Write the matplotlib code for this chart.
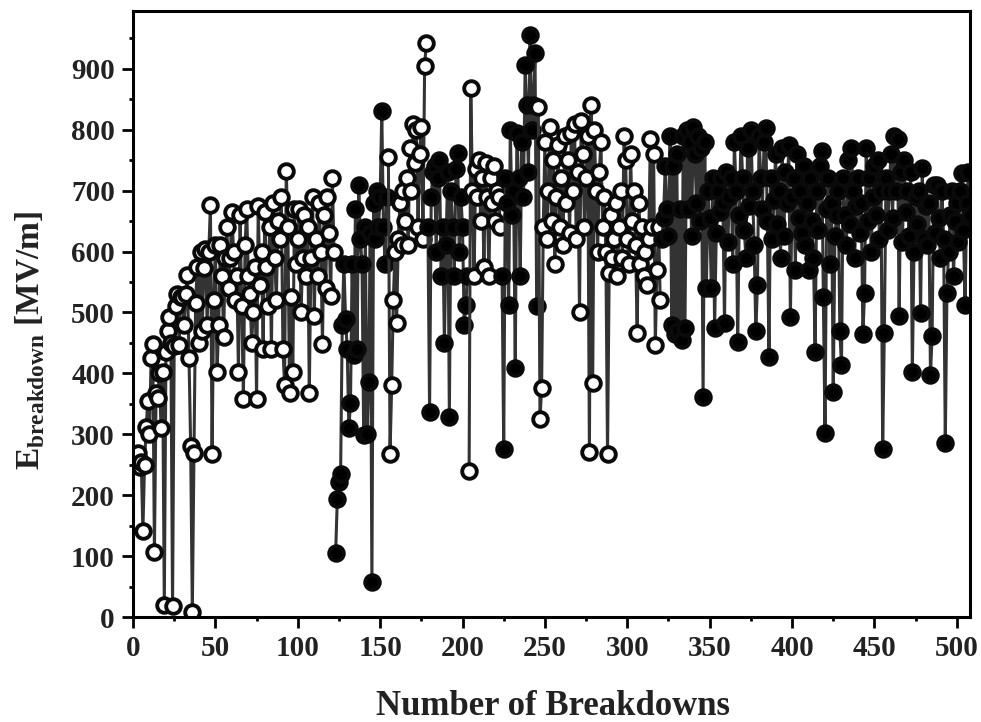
import numpy as np
import matplotlib
matplotlib.use('Agg')
import matplotlib.pyplot as plt
from matplotlib.ticker import MultipleLocator

# valores, cada tramo empieza en su propio numero de ruptura
abierto_1_inicio = 3
abierto_1 = [270, 246, 255, 141, 250, 312, 355, 300,
             425, 448, 107, 367, 360, 400, 310, 402, 20, 435,
             470, 492, 450, 18, 445, 510, 530, 447, 525, 525,
             480, 530, 561, 425, 280, 8, 270, 515, 575, 450,
             600, 470, 573, 605, 480, 600, 676, 268, 520, 610,
             402, 480, 610, 560, 460, 590, 640, 540, 590, 665,
             600, 520, 560, 402, 660, 510, 358, 610, 670, 560,
             530, 450, 500, 575, 358, 675, 545, 600, 440, 665,
             575, 510, 640, 440, 680, 590, 520, 650, 620, 690,
             440, 381, 733, 640, 368, 525, 402, 670, 580, 620,
             670, 500, 590, 660, 560, 640, 368, 590, 690, 495,
             620, 560, 680, 600, 448, 660, 540, 690, 630, 527,
             720, 600]

lleno_1_inicio = 123
lleno_1 = [105, 194, 222, 235, 480, 580, 490, 440, 310, 351,
           580, 430, 670, 440, 710, 620, 580, 299, 640, 300,
           386, 630, 57, 680, 620, 700, 640, 690, 830, 640,
           580, 690]

abierto_2_inicio = 155
abierto_2 = [755, 268, 381, 520, 600, 483, 620, 680, 610, 700,
             650, 720, 610, 770, 700, 810, 745, 800, 640, 760,
             805, 620, 905, 943]

lleno_2_inicio = 179
lleno_2 = [640, 337, 690, 730, 740, 600, 720, 750, 560, 640,
           450, 610, 730, 328, 700, 640, 560, 735, 762, 600,
           690, 640, 480, 512, 560]

abierto_3_inicio = 204
abierto_3 = [240, 869, 700, 560, 735, 690, 750, 650, 720, 575,
             745, 690, 560, 720, 680, 740, 650, 700, 690, 640]

lleno_3_inicio = 224
lleno_3 = [560, 276, 720, 680, 512, 800, 660, 700, 409, 795,
           720, 560, 780, 690, 906, 840, 730, 956, 800, 840,
           926, 511]

abierto_4_inicio = 246
abierto_4 = [837, 325, 376, 640, 780, 620, 700, 805, 650, 750,
             580, 690, 775, 640, 720, 610, 790, 680, 750, 630,
             795, 700, 810, 620, 730, 501, 815, 760, 640, 720,
             790, 271, 841, 384, 800, 700, 600, 730, 780, 640,
             690, 600, 268, 565, 660, 590, 620, 680, 560, 640,
             700, 590, 790, 750, 620, 580, 760, 650, 700, 610,
             466, 680, 580, 640, 560, 600, 545, 620, 785, 640,
             760, 447, 570, 640, 520]

lleno_4_inicio = 321
lleno_4 = [620, 655, 740, 670, 625, 790, 480, 740, 465, 760,
           470, 670, 455, 790, 475, 800, 670, 780, 625, 805,
           760, 680, 790, 650, 770, 361, 780, 540, 700, 655,
           540, 720, 474, 630, 700, 665, 720, 680, 482, 730,
           615, 690, 720, 580, 780, 700, 451, 660, 790, 720,
           635, 590, 770, 675, 800, 700, 610, 469, 545, 790,
           720, 670, 780, 803, 650, 427, 720, 620, 685, 760,
           645, 700, 590, 770, 625, 730, 680, 775, 493, 690,
           720, 570, 760, 655, 700, 630, 740, 610, 680, 570,
           720, 650, 590, 435, 700, 635, 740, 765, 525, 302,
           670, 720, 580, 680, 370, 625, 660, 700, 470, 413,
           720, 660, 610, 750, 645, 770, 700, 590, 675, 720,
           630, 680, 464, 532, 770, 650, 720, 600, 690, 740,
           660, 750, 620, 700, 276, 467, 720, 635, 700, 760,
           655, 790, 700, 785, 494, 730, 615, 750, 665, 700,
           625, 730, 402, 600, 690, 645, 700, 499, 737, 620,
           675, 610, 680, 397, 461, 710, 630, 710, 655, 590,
           700, 620, 285, 532, 600, 660, 700, 560, 650, 680,
           615, 700, 729, 635, 512, 680, 730, 660]

tramos = [(abierto_1_inicio, abierto_1, 'white'),
          (lleno_1_inicio, lleno_1, 'black'),
          (abierto_2_inicio, abierto_2, 'white'),
          (lleno_2_inicio, lleno_2, 'black'),
          (abierto_3_inicio, abierto_3, 'white'),
          (lleno_3_inicio, lleno_3, 'black'),
          (abierto_4_inicio, abierto_4, 'white'),
          (lleno_4_inicio, lleno_4, 'black')]

plt.rcParams['font.family'] = ['Liberation Serif', 'DejaVu Serif']
plt.rcParams['font.weight'] = 'bold'
plt.rcParams['mathtext.fontset'] = 'custom'
plt.rcParams['mathtext.bf'] = 'Liberation Serif:bold'

fig = plt.figure(figsize=(9.81, 7.22), dpi=100)
ax = fig.add_axes([133 / 981, 1 - 617 / 722, (970 - 133) / 981, (617 - 11) / 722])

for inicio, valores, relleno in tramos:
    xs = inicio + np.arange(len(valores))
    ax.plot(xs, valores, color='#333333', lw=2.2, marker='o', ms=10.5,
            mfc=relleno, mec='#0a0a0a', mew=2.8)

ax.set_xlim(0, 508)
ax.set_ylim(0, 995)
ax.xaxis.set_major_locator(MultipleLocator(50))
ax.xaxis.set_minor_locator(MultipleLocator(25))
ax.yaxis.set_major_locator(MultipleLocator(100))
ax.yaxis.set_minor_locator(MultipleLocator(50))
ax.tick_params(which='major', length=8, width=2, labelsize=21, pad=5, labelcolor='#222222')
ax.tick_params(which='minor', length=3, width=2)
for borde in ax.spines.values():
    borde.set_linewidth(2.2)

ax.set_xlabel('Number of Breakdowns', fontsize=25, fontweight='bold', color='#222222', va='center')
ax.xaxis.set_label_coords(0.502, -0.147)
ax.set_ylabel(r'E$_{\mathbf{breakdown}}$ [MV/m]', fontsize=24, fontweight='bold', color='#222222', va='center')
ax.yaxis.set_label_coords(-0.123, 0.457)

fig.savefig('out.png', dpi=100)
